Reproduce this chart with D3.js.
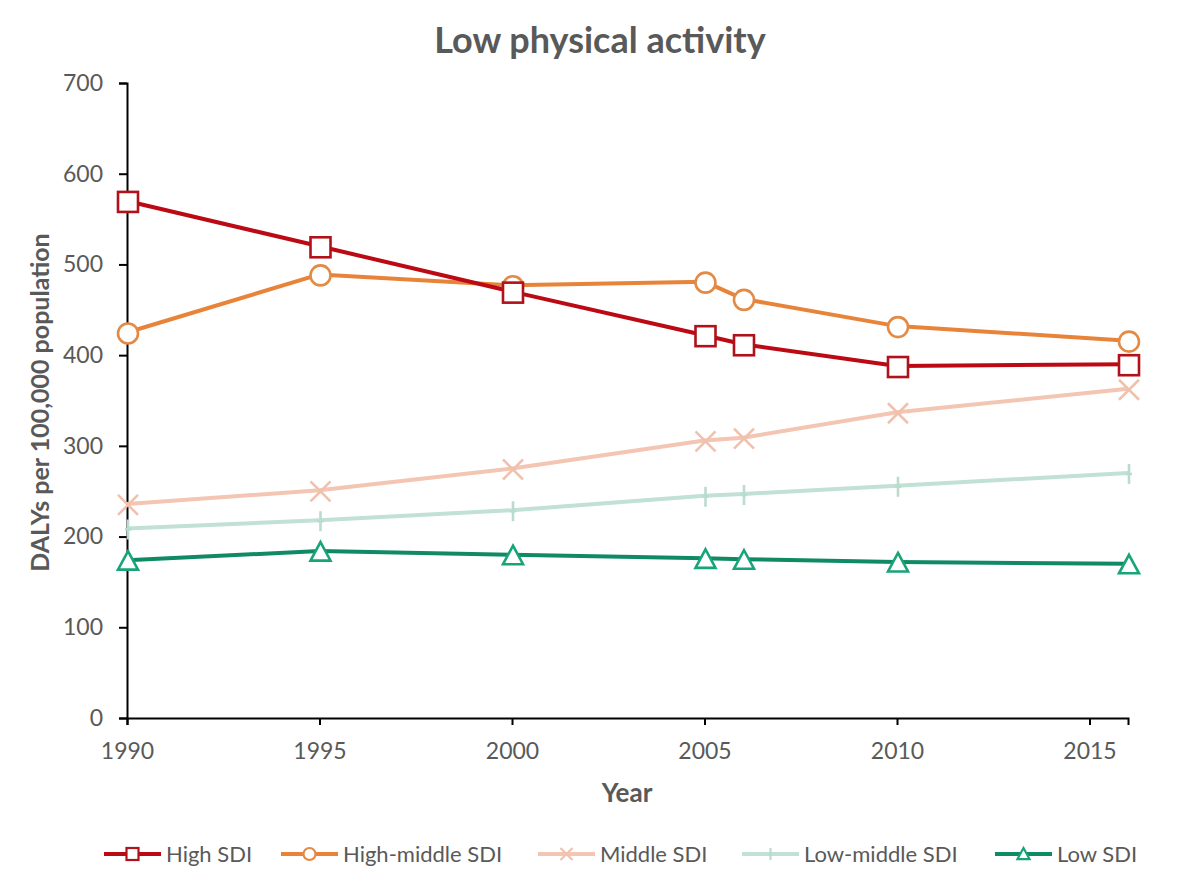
<!DOCTYPE html>
<html>
<head>
<meta charset="utf-8">
<script src="https://cdn.jsdelivr.net/npm/d3@7"></script>
<style>
  body { margin: 0; background: #fff; }
  text { font-family: Lato, 'Open Sans', sans-serif; fill: #595959; }
</style>
</head>
<body>
<svg id="chart" width="1200" height="892"></svg>
<script>
// Данные графика
const years = [1990, 1995, 2000, 2005, 2006, 2010, 2016]
const highSDI = [570, 520, 470, 422, 412, 388, 390]
const highMiddleSDI = [425, 489, 477, 481, 462, 432, 416]
const middleSDI = [236, 251, 275, 306, 309, 337, 363]
const lowMiddleSDI = [209, 218, 229, 245, 247, 256, 270]
const lowSDI = [174, 184, 180, 176, 175, 172, 170]
const xTicks = [1990, 1995, 2000, 2005, 2010, 2015]
const yTicks = [0, 100, 200, 300, 400, 500, 600, 700]

const series = [
  { name: 'High SDI', values: highSDI, color: '#BC0A14', marker: '#B0111A', shape: 'square' },
  { name: 'High-middle SDI', values: highMiddleSDI, color: '#E8843A', marker: '#E38A45', shape: 'circle' },
  { name: 'Middle SDI', values: middleSDI, color: '#F3C5B2', marker: '#F0C2AE', shape: 'cross' },
  { name: 'Low-middle SDI', values: lowMiddleSDI, color: '#C0E1D4', marker: '#BADCCE', shape: 'plus' },
  { name: 'Low SDI', values: lowSDI, color: '#108A64', marker: '#17A479', shape: 'triangle' },
]

const svg = d3.select('#chart')
const margin = { top: 83, right: 72, bottom: 174, left: 127 }
const width = 1200 - margin.left - margin.right
const height = 892 - margin.top - margin.bottom

const x = d3.scaleLinear().domain([1990, 2016]).range([0, width])
const y = d3.scaleLinear().domain([0, 700]).range([height, 0])

const g = svg.append('g').attr('transform', `translate(${margin.left},${margin.top})`)

// Заголовок
svg.append('text')
  .attr('x', 600)
  .attr('y', 53)
  .attr('text-anchor', 'middle')
  .attr('font-size', '36px')
  .attr('font-weight', 'bold')
  .text('Low physical activity')

// Ось X
const xAxis = g.append('g')
  .attr('transform', `translate(0,${height})`)
  .call(d3.axisBottom(x).tickValues(xTicks).tickFormat(d3.format('d')).tickSizeOuter(0).tickSize(7).tickPadding(18))
xAxis.select('.domain').attr('stroke', '#000').attr('stroke-width', 2)
xAxis.selectAll('.tick line').attr('stroke', '#000').attr('stroke-width', 2)
xAxis.selectAll('.tick text').attr('font-size', '23px').attr('fill', '#595959')
  .attr('font-family', 'Lato, sans-serif')

// Ось Y
const yAxis = g.append('g')
  .call(d3.axisLeft(y).tickValues(yTicks).tickSizeOuter(0).tickSize(8).tickPadding(16))
yAxis.select('.domain').attr('stroke', '#000').attr('stroke-width', 2)
yAxis.selectAll('.tick line').attr('stroke', '#000').attr('stroke-width', 2)
yAxis.selectAll('.tick text').attr('font-size', '23px').attr('fill', '#595959')
  .attr('font-family', 'Lato, sans-serif')

// Подписи осей
svg.append('text')
  .attr('x', 627)
  .attr('y', 802)
  .attr('text-anchor', 'middle')
  .attr('font-size', '26px')
  .attr('font-weight', 'bold')
  .text('Year')

svg.append('text')
  .attr('transform', `translate(49, ${margin.top + height / 2 + 2}) rotate(-90)`)
  .attr('text-anchor', 'middle')
  .attr('font-size', '25px')
  .attr('font-weight', 'bold')
  .text('DALYs per 100,000 population')

// Функция маркеров
const drawMarker = (sel, shape, color, s) => {
  const sw = s > 14 ? 2.6 : 2.2
  if (shape === 'square') {
    sel.append('rect').attr('x', -s / 2).attr('y', -s / 2).attr('width', s).attr('height', s)
      .attr('fill', '#fff').attr('stroke', color).attr('stroke-width', sw)
  } else if (shape === 'circle') {
    sel.append('circle').attr('r', s / 2).attr('fill', '#fff').attr('stroke', color).attr('stroke-width', sw)
  } else if (shape === 'cross') {
    const h = s / 2
    sel.append('path').attr('d', `M${-h},${-h}L${h},${h}M${-h},${h}L${h},${-h}`)
      .attr('stroke', color).attr('stroke-width', sw).attr('fill', 'none')
  } else if (shape === 'plus') {
    const h = s / 2
    sel.append('path').attr('d', `M0,${-h}L0,${h}M${-h * 0.3},0L${h * 0.3},0`)
      .attr('stroke', color).attr('stroke-width', sw).attr('fill', 'none')
  } else if (shape === 'triangle') {
    const h = s / 2
    sel.append('path').attr('d', `M0,${-h}L${h},${h * 0.85}L${-h},${h * 0.85}Z`)
      .attr('fill', '#fff').attr('stroke', color).attr('stroke-width', sw).attr('stroke-linejoin', 'miter')
  }
}

// Линии и маркеры
const line = d3.line().x((d, i) => x(years[i])).y(d => y(d))

series.slice().reverse().forEach((s) => {
  g.append('path')
    .datum(s.values)
    .attr('fill', 'none')
    .attr('stroke', s.color)
    .attr('stroke-width', 4)
    .attr('stroke-linejoin', 'round')
    .attr('d', line)
})

series.slice().reverse().forEach((s) => {
  g.selectAll(null)
    .data(s.values)
    .enter()
    .append('g')
    .attr('transform', (d, i) => `translate(${x(years[i]) + 1},${y(d) + 1})`)
    .each(function () { drawMarker(d3.select(this), s.shape, s.marker, 20) })
})

// Легенда
const legendX = [104, 281, 538, 742, 995]
const legend = svg.append('g').attr('transform', 'translate(0, 854)')
series.forEach((s, i) => {
  const item = legend.append('g').attr('transform', `translate(${legendX[i]}, 0)`)
  item.append('line').attr('x1', 0).attr('x2', 57).attr('y1', 0).attr('y2', 0)
    .attr('stroke', s.color).attr('stroke-width', 4)
  const m = item.append('g').attr('transform', 'translate(28.5, 0)')
  drawMarker(m, s.shape, s.marker, 12)
  item.append('text').attr('x', 62).attr('y', 8).attr('font-size', '22px').text(s.name)
})
</script>
</body>
</html>
